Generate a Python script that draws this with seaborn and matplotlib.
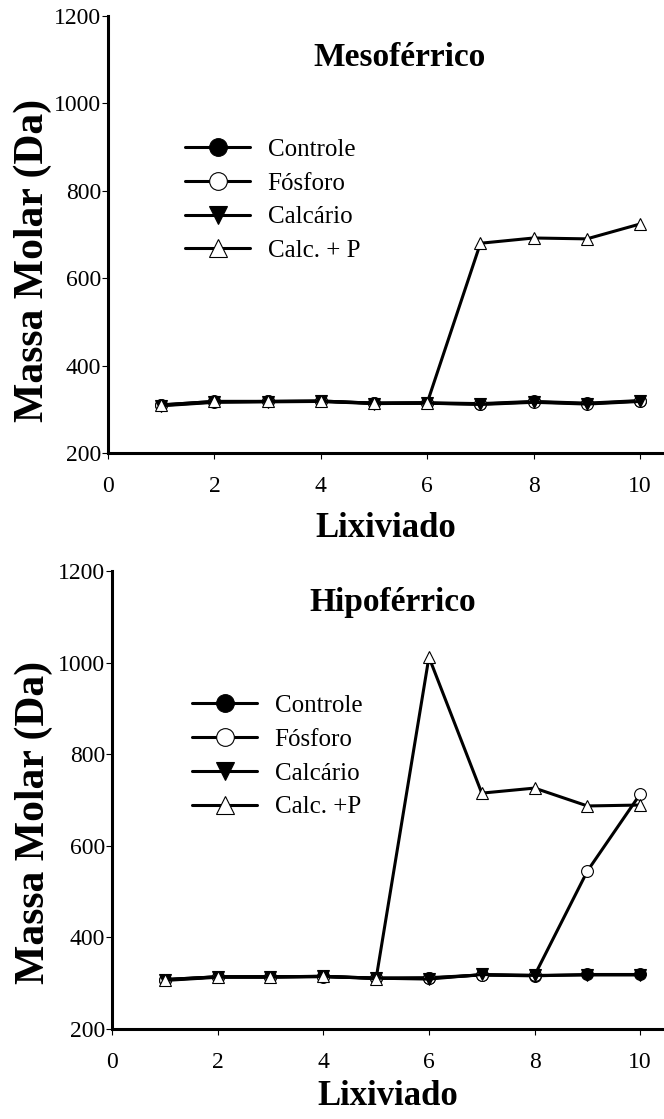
import numpy as np
import pandas as pd
import matplotlib
matplotlib.use('Agg')
import matplotlib.pyplot as plt
import seaborn as sns

# Data
lixiviado = [1, 2, 3, 4, 5, 6, 7, 8, 9, 10]

meso_controle = [310, 318, 318, 319, 314, 315, 313, 318, 314, 320]
meso_fosforo = [309, 317, 318, 318, 314, 314, 312, 317, 313, 319]
meso_calcario = [308, 316, 317, 318, 313, 314, 311, 316, 312, 318]
meso_calcp = [310, 318, 318, 319, 314, 315, 680, 692, 690, 724]

hipo_controle = [308, 314, 314, 315, 311, 312, 318, 316, 319, 319]
hipo_fosforo = [307, 314, 314, 314, 311, 311, 318, 317, 545, 713]
hipo_calcario = [306, 313, 313, 315, 311, 309, 319, 317, 318, 318]
hipo_calcp = [308, 314, 314, 315, 310, 1012, 715, 726, 687, 689]

series_names = ['Controle', 'Fósforo', 'Calcário', 'Calc. + P']
series_names_hipo = ['Controle', 'Fósforo', 'Calcário', 'Calc. +P']
markers = ['o', 'o', 'v', '^']
faces = ['black', 'white', 'black', 'white']

sns.set_style('ticks')
plt.rcParams['font.family'] = ['Liberation Serif', 'DejaVu Serif']
plt.rcParams['text.color'] = 'black'
plt.rcParams['axes.labelcolor'] = 'black'
plt.rcParams['xtick.color'] = 'black'
plt.rcParams['ytick.color'] = 'black'

fig = plt.figure(figsize=(6.64, 11.19), dpi=100)
ax1 = fig.add_axes([108 / 664, 1 - 453 / 1119, 1 - 108 / 664, 437 / 1119])
ax2 = fig.add_axes([112 / 664, 1 - 1029 / 1119, 1 - 112 / 664, 458 / 1119])


def draw_panel(ax, values, names, title, title_xy, leg_xy, ylab_xy, xlab_y):
    for vals, name, m, fc in zip(values, names, markers, faces):
        sns.lineplot(x=lixiviado, y=vals, ax=ax, color='black', linewidth=2.2,
                     marker=m, markersize=8.5, markerfacecolor=fc,
                     markeredgecolor='black', markeredgewidth=0.8, label=name)
    ax.set_xlim(0, 10.45)
    ax.set_ylim(200, 1200)
    ax.set_xticks([0, 2, 4, 6, 8, 10])
    ax.set_yticks([200, 400, 600, 800, 1000, 1200])
    ax.tick_params(axis='both', labelsize=17, width=0.8, length=4.5)
    ax.tick_params(axis='x', pad=12)
    ax.tick_params(axis='y', pad=0.5)
    sns.despine(ax=ax)
    for s in ['left', 'bottom']:
        ax.spines[s].set_linewidth(2.2)
        ax.spines[s].set_color('black')
    ax.set_xlabel('Lixiviado', fontsize=25, fontweight='bold')
    ax.xaxis.set_label_coords(0.5, xlab_y)
    ax.set_ylabel('Massa Molar (Da)', fontsize=30, fontweight='bold')
    ax.yaxis.set_label_coords(*ylab_xy)
    ax.text(title_xy[0], title_xy[1], title, fontsize=24, fontweight='bold',
            ha='center', va='center')
    ax.legend(loc='upper left', bbox_to_anchor=leg_xy, frameon=False,
              fontsize=18, handlelength=2.6, handletextpad=0.7,
              labelspacing=0.45, borderpad=0, borderaxespad=0, markerscale=1.5)


draw_panel(ax1, [meso_controle, meso_fosforo, meso_calcario, meso_calcp],
           series_names, 'Mesoférrico', (5.47, 1106), (0.1385, 0.72),
           (-0.1, 0.44), -0.135)
draw_panel(ax2, [hipo_controle, hipo_fosforo, hipo_calcario, hipo_calcp],
           series_names_hipo, 'Hipoférrico', (5.32, 1132), (0.145, 0.73),
           (-0.107, 0.452), -0.111)

fig.savefig('out.png', dpi=100)
